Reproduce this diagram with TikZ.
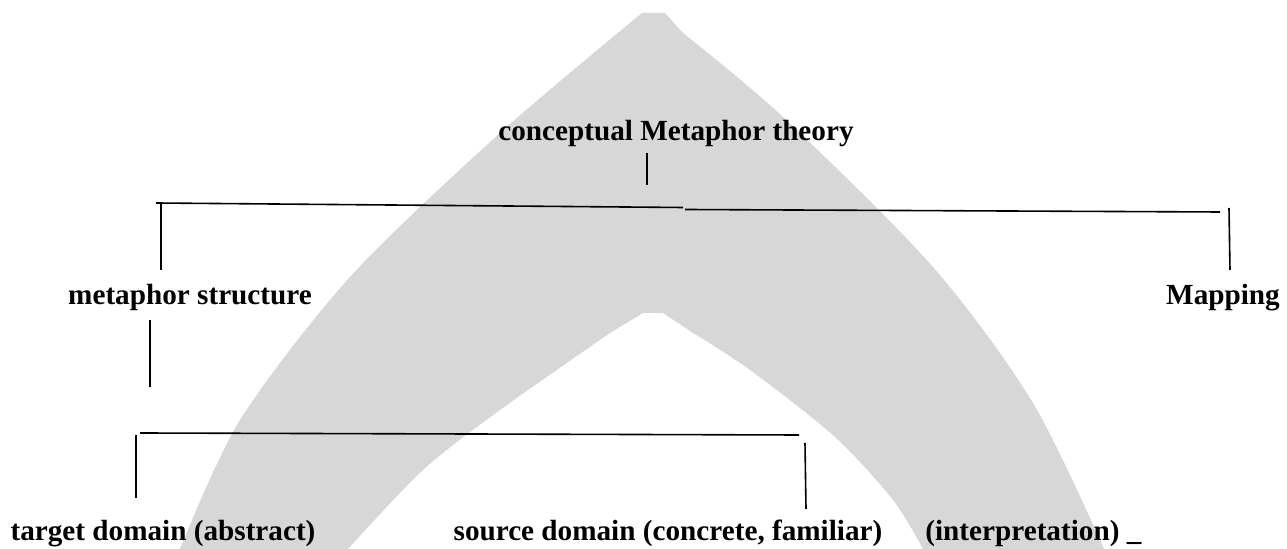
\documentclass[tikz,border=0pt]{standalone}
\usepackage{fontspec}
\setmainfont{Liberation Serif}
\definecolor{chevgray}{RGB}{216,215,215}

\begin{document}
\begin{tikzpicture}[x=0.5pt, y=-0.5pt,
  lbl/.style={font=\fontsize{14.6}{17}\selectfont\bfseries, anchor=base, inner sep=0pt},
  ln/.style={line width=0.8pt}]
\useasboundingbox (0,0) rectangle (1287,549);
% grey chevron behind the tree
\fill[chevgray] plot[smooth] coordinates {(180,549) (240,420) (350,277) (500,133) (642,13)}
  -- (665,13)
  -- plot[smooth] coordinates {(683,33) (783,117) (933,267) (1033,403) (1104,549)}
  -- plot[smooth] coordinates {(923,549) (893,500) (835,437) (750,370) (690,331)}
  -- (663,313) -- (643,313)
  -- plot[smooth] coordinates {(610,333) (500,410) (423,470) (348,549)}
  -- cycle;
% labels
\node[lbl] (theory) at (676,141) {conceptual Metaphor theory};
\node[lbl] (struct) at (190,305) {metaphor structure};
\node[lbl] (mapping) at (1223,305) {Mapping};
\node[lbl] (target) at (163,541) {target domain (abstract)};
\node[lbl] (source) at (668,541) {source domain (concrete, familiar)};
\node[lbl, anchor=base west] (interp) at (925,541) {(interpretation) \_};
% bracket points
\coordinate (th1) at (647,153); \coordinate (th2) at (647,185);
\coordinate (barL) at (156,203); \coordinate (barM1) at (683,207.5);
\coordinate (barM2) at (685,209.5); \coordinate (barR) at (1220,212);
\coordinate (dl1) at (161,203); \coordinate (dl2) at (161,270);
\coordinate (dr1) at (1229,208); \coordinate (dr2) at (1230,270);
\coordinate (st1) at (150,320); \coordinate (st2) at (150,387);
\coordinate (lowL) at (140,433); \coordinate (lowR) at (799,435);
\coordinate (tg1) at (136,435); \coordinate (tg2) at (136,498);
\coordinate (sr1) at (805,443); \coordinate (sr2) at (806,509);
% tree lines
\draw[ln] (th1) -- (th2);
\draw[ln] (barL) -- (barM1); \draw[ln] (barM2) -- (barR);
\draw[ln] (dl1) -- (dl2); \draw[ln] (dr1) -- (dr2);
\draw[ln] (st1) -- (st2);
\draw[ln] (lowL) -- (lowR);
\draw[ln] (tg1) -- (tg2); \draw[ln] (sr1) -- (sr2);
\end{tikzpicture}
\end{document}
